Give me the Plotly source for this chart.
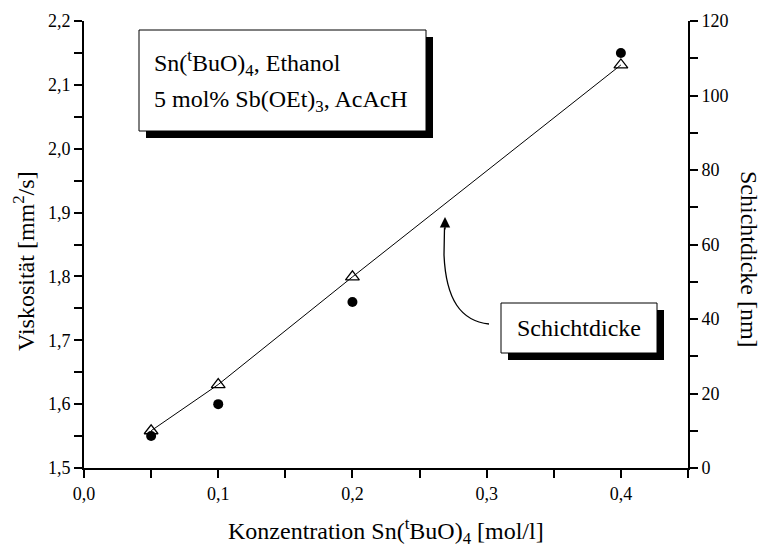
import plotly.graph_objects as go

# Konzentration Sn(tBuO)4 in mol/l
konzentration = [0.05, 0.1, 0.2, 0.4]
# Viskosität in mm²/s (linke Achse)
viskositaet = [1.55, 1.60, 1.76, 2.15]
# Schichtdicke in nm (rechte Achse)
schichtdicke = [10.0, 22.4, 51.3, 108.2]

FONT = "Liberation Serif, Times New Roman, serif"
W, H = 761, 548
L, R, T, B = 84, 73, 21, 80
PW, PH = W - L - R, H - T - B


def px(x, y):
    """Pixel position -> paper coordinates."""
    return (x - L) / PW, (H - B - y) / PH


fig = go.Figure()

fig.add_trace(go.Scatter(
    x=konzentration, y=viskositaet, mode="markers",
    marker=dict(symbol="circle", size=10, color="black"),
    showlegend=False, yaxis="y",
))
fig.add_trace(go.Scatter(
    x=konzentration, y=schichtdicke, mode="lines+markers",
    line=dict(color="black", width=1),
    marker=dict(symbol="triangle-up-open", size=12, color="black",
                line=dict(width=1.3)),
    showlegend=False, yaxis="y2",
))

axis_common = dict(
    showgrid=False, zeroline=False, showline=True, linecolor="black",
    linewidth=2, ticks="outside", ticklen=8, tickwidth=2, tickcolor="black",
    tickfont=dict(family=FONT, size=18, color="black"),
)

fig.update_layout(
    width=W, height=H,
    margin=dict(l=L, r=R, t=T, b=B),
    paper_bgcolor="white", plot_bgcolor="white",
    separators=", ",
    xaxis=dict(range=[0, 0.45], tick0=0, dtick=0.1, tickformat=".1f",
               minor=dict(dtick=0.05, ticks="outside", ticklen=8,
                          tickwidth=2, tickcolor="black"),
               **axis_common),
    yaxis=dict(range=[1.5, 2.2], tick0=1.5, dtick=0.1, tickformat=".1f",
               minor=dict(dtick=0.05, ticks="outside", ticklen=8,
                          tickwidth=2, tickcolor="black"),
               **axis_common),
    yaxis2=dict(range=[0, 120], tick0=0, dtick=20, overlaying="y",
                side="right",
                minor=dict(dtick=10, ticks="outside", ticklen=8,
                           tickwidth=2, tickcolor="black"),
                **axis_common),
)

# axis titles
tf = dict(family=FONT, size=24, color="black")
ann = []
x0, y0 = px(386, 531)
ann.append(dict(x=x0, y=y0, xref="paper", yref="paper", showarrow=False,
                text="Konzentration Sn(<sup>t</sup>BuO)<sub>4</sub> [mol/l]",
                font=tf, xanchor="center", yanchor="middle"))
x0, y0 = px(24, 261)
ann.append(dict(x=x0, y=y0, xref="paper", yref="paper", showarrow=False,
                text="Viskosität [mm<sup>2</sup>/s]", textangle=-90,
                font=tf, xanchor="center", yanchor="middle"))
x0, y0 = px(749, 259)
ann.append(dict(x=x0, y=y0, xref="paper", yref="paper", showarrow=False,
                text="Schichtdicke [nm]", textangle=90,
                font=tf, xanchor="center", yanchor="middle"))

shapes = []


def shadow_box(x1, y1, x2, y2, off=7):
    a, b = px(x1 + off, y2 + off)
    c, d = px(x2 + off, y1 + off)
    shapes.append(dict(type="rect", xref="paper", yref="paper",
                       x0=a, y0=b, x1=c, y1=d, fillcolor="black",
                       line=dict(width=0)))
    a, b = px(x1, y2)
    c, d = px(x2, y1)
    shapes.append(dict(type="rect", xref="paper", yref="paper",
                       x0=a, y0=b, x1=c, y1=d, fillcolor="white",
                       line=dict(color="black", width=1)))


# info box
shadow_box(139, 30, 426, 131)
x0, y0 = px(152, 63)
ann.append(dict(x=x0, y=y0, xref="paper", yref="paper", showarrow=False,
                text="Sn(<sup>t</sup>BuO)<sub>4</sub>, Ethanol",
                font=tf, xanchor="left", yanchor="middle"))
x0, y0 = px(152, 101)
ann.append(dict(x=x0, y=y0, xref="paper", yref="paper", showarrow=False,
                text="5 mol% Sb(OEt)<sub>3</sub>, AcAcH",
                font=tf, xanchor="left", yanchor="middle"))

# label box with curved pointer
shadow_box(501, 303, 657, 353)
x0, y0 = px(579, 328)
ann.append(dict(x=x0, y=y0, xref="paper", yref="paper", showarrow=False,
                text="Schichtdicke", font=tf,
                xanchor="center", yanchor="middle"))

pts = [px(489, 324), px(461, 321), px(446, 300), px(444, 255),
       px(444.5, 228)]
path = "M {:.5f},{:.5f} C {:.5f},{:.5f} {:.5f},{:.5f} {:.5f},{:.5f} L {:.5f},{:.5f}".format(
    *[v for p in pts for v in p])
shapes.append(dict(type="path", xref="paper", yref="paper", path=path,
                   line=dict(color="black", width=1.3)))
x0, y0 = px(445, 217)
ann.append(dict(x=x0, y=y0, xref="paper", yref="paper", showarrow=True,
                ax=0, ay=14, text="", arrowhead=2, arrowsize=1.6,
                arrowwidth=1.3, arrowcolor="black"))

fig.update_layout(annotations=ann, shapes=shapes)

fig.write_html("out.html")
